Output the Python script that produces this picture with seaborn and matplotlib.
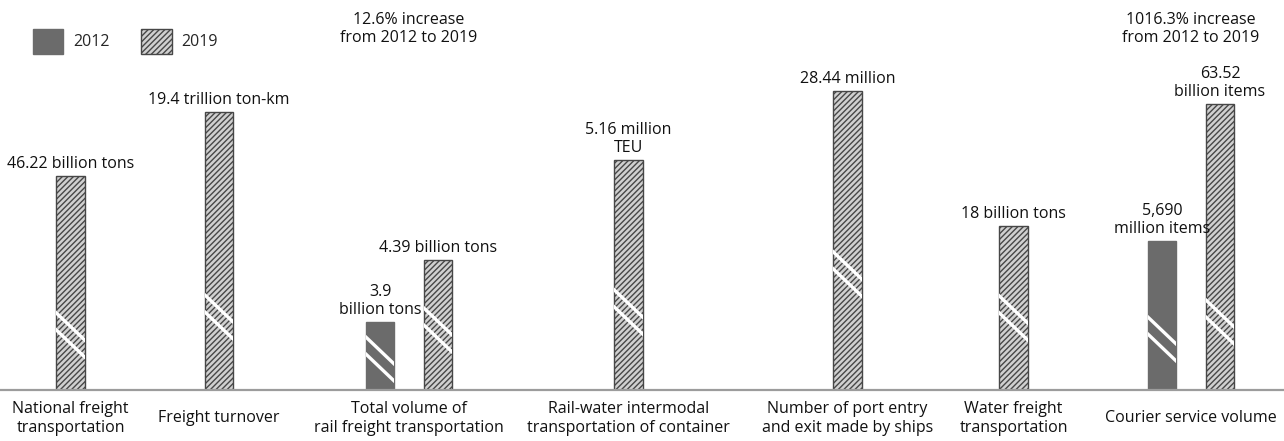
import numpy as np
import pandas as pd
import seaborn as sns
import matplotlib.pyplot as plt
from matplotlib.patches import Patch

# ---------------- data (bar heights are the drawn, illustrative heights) ----------------
categories = [
    "National freight\ntransportation",
    "Freight turnover",
    "Total volume of\nrail freight transportation",
    "Rail-water intermodal\ntransportation of container",
    "Number of port entry\nand exit made by ships",
    "Water freight\ntransportation",
    "Courier service volume",
]
years = ["2012", "2019"]
height_2012 = [np.nan, np.nan, 68, np.nan, np.nan, np.nan, 149]
height_2019 = [214, 278, 130, 230, 299, 164, 286]
label_2012 = ["", "", "3.9\nbillion tons", "", "", "", "5,690\nmillion items"]
label_2019 = [
    "46.22 billion tons",
    "19.4 trillion ton-km",
    "4.39 billion tons",
    "5.16 million\nTEU",
    "28.44 million",
    "18 billion tons",
    "63.52\nbillion items",
]
increase_notes = ["", "", "12.6% increase\nfrom 2012 to 2019", "", "", "",
                  "1016.3% increase\nfrom 2012 to 2019"]

# ---------------- layout / style ----------------
slot_x = [70.5, 219, 409, 628.5, 847.5, 1013.5, 1191]
pair_half_gap = 29
break_2012 = [np.nan, np.nan, 53, np.nan, np.nan, np.nan, 73]
break_2019 = [77, 95, 82, 100, 138, 94, 90]
BAR_PX = 28.5
FS = 11.5
LS = 1.2
TXT = "#111111"
C2012 = "#6b6b6b"
C2019_FACE = "#d0d0d0"
C2019_EDGE = "#474747"
HATCH = "//////"

sns.set_theme(style="white")
plt.rcParams["font.family"] = ["Open Sans", "DejaVu Sans"]
plt.rcParams["hatch.linewidth"] = 1.0

rows = []
for i, cat in enumerate(categories):
    paired = not np.isnan(height_2012[i])
    for year, h, brk, lab, off in (
        ("2012", height_2012[i], break_2012[i], label_2012[i], -pair_half_gap),
        ("2019", height_2019[i], break_2019[i], label_2019[i], pair_half_gap),
    ):
        if np.isnan(h):
            continue
        rows.append(dict(category=cat, year=year,
                         x=slot_x[i] + (off if paired else 0),
                         height=h, brk=brk, label=lab))
df = pd.DataFrame(rows)

fig = plt.figure(figsize=(12.84, 4.41), dpi=100)
ax = fig.add_axes([0, 51 / 441, 1, 390 / 441])

native = np.diff(np.unique(df["x"])).min()
sns.barplot(data=df, x="x", y="height", hue="year", hue_order=years,
            native_scale=True, dodge=False, width=BAR_PX / native,
            palette={"2012": C2012, "2019": C2019_FACE}, saturation=1,
            errorbar=None, legend=False, ax=ax, linewidth=1)

bars = [p for p in ax.patches if p.get_height() > 0]
for _, r in df.iterrows():
    patch = min(bars, key=lambda p: abs(p.get_x() + p.get_width() / 2 - r["x"]))
    if r["year"] == "2019":
        patch.set_hatch(HATCH)
        patch.set_edgecolor(C2019_EDGE)
        patch.set_facecolor(C2019_FACE)
    else:
        patch.set_edgecolor(C2012)
        patch.set_facecolor(C2012)
    xl = patch.get_x()
    xr = xl + patch.get_width()
    for dy in (0, 17):
        y0 = r["brk"] - dy
        ln, = ax.plot([xl - 2, xr + 2], [y0 + 2, y0 - 27 - 2], color="white",
                      lw=2.4, solid_capstyle="butt", zorder=5)
        ln.set_clip_path(patch)
    ax.text(r["x"], r["height"] + 4, r["label"], ha="center", va="bottom",
            fontsize=FS, color=TXT, linespacing=LS)

for i, note in enumerate(increase_notes):
    if note:
        ax.text(slot_x[i], 361, note, ha="center", va="center", fontsize=FS,
                color=TXT, linespacing=LS)

ax.set_xlim(0, 1284)
ax.set_ylim(0, 390)
ax.set_xticks(slot_x)
ax.set_xticklabels(categories, fontsize=FS, color=TXT, va="center",
                   linespacing=LS)
ax.tick_params(axis="x", length=0, pad=20.5)
ax.set_yticks([])
ax.set_xlabel("")
ax.set_ylabel("")
for s in ("left", "right", "top"):
    ax.spines[s].set_visible(False)
ax.spines["bottom"].set_color("#9c9c9c")
ax.spines["bottom"].set_linewidth(1.6)

handles = [
    Patch(facecolor=C2012, edgecolor=C2012, label="2012"),
    Patch(facecolor=C2019_FACE, edgecolor=C2019_EDGE, hatch=HATCH, label="2019"),
]
ax.legend(handles=handles, loc="upper left", bbox_to_anchor=(33 / 1284, 1 - 29 / 390),
          ncol=2, frameon=False, fontsize=FS, handlelength=1.9, handleheight=2.0,
          handletextpad=0.6, columnspacing=2.0, borderpad=0, borderaxespad=0)

fig.savefig("out.png", dpi=100)
